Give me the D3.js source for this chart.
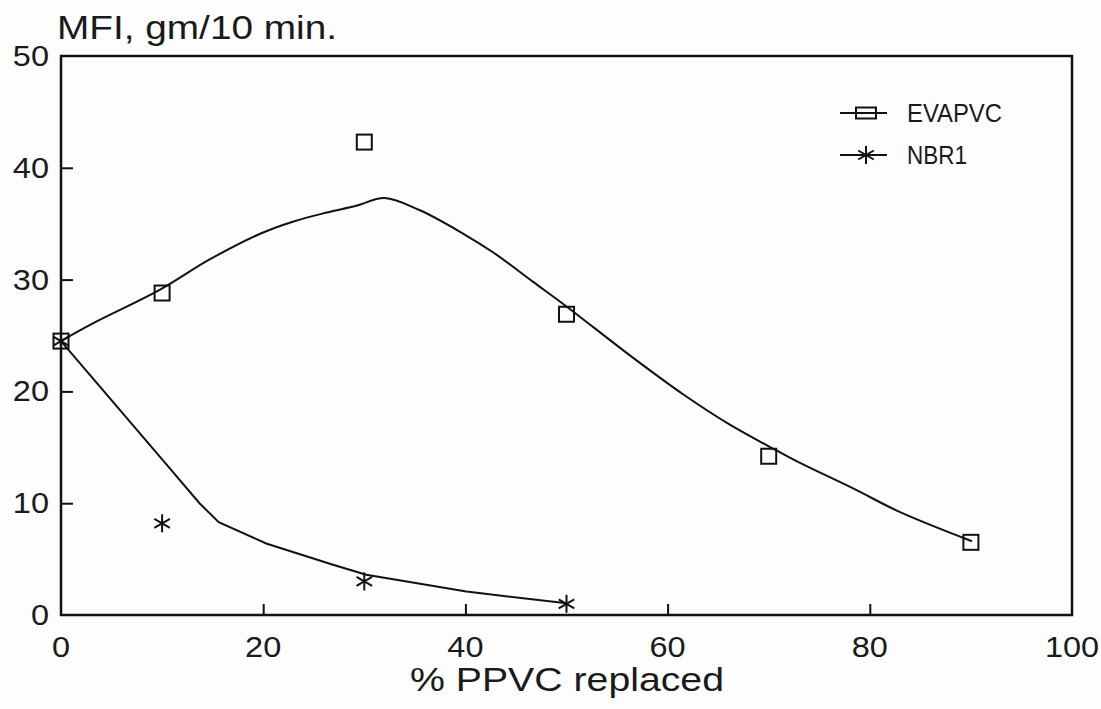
<!DOCTYPE html>
<html lang="en">
<head>
    <meta charset="UTF-8">
    <title>MFI vs % PPVC replaced</title>
    <script src="https://d3js.org/d3.v7.min.js"></script>
    <style>
        body { margin: 0; background: #fdfdfd; }
        svg text { font-family: "Liberation Sans", Arial, sans-serif; fill: #1a1a1a; }
    </style>
</head>
<body>
    <svg id="chart" width="1101" height="709"></svg>
    <script>
        // measured points
        const evaPct = [0, 10, 30, 50, 70, 90];
        const evaMfi = [24.5, 28.8, 42.3, 26.9, 14.2, 6.5];
        const nbrPct = [0, 10, 30, 50];
        const nbrMfi = [24.5, 8.2, 3.0, 1.0];

        // fitted curves
        const evaFitX = [0, 3.2, 9.8, 14.7, 19.7, 23.0, 26.3, 29.2, 32.0, 35.5, 39.8, 42.8, 46.7, 50.0, 56.3, 61.6, 66.2, 70.8, 73.1, 78.4, 83.0, 90.1];
        const evaFitY = [24.5, 26.1, 29.1, 31.8, 34.1, 35.2, 36.0, 36.6, 37.3, 36.2, 34.1, 32.4, 29.8, 27.6, 23.2, 19.7, 17.0, 14.7, 13.6, 11.3, 9.2, 6.6];
        const nbrFitX = [0, 10.3, 13.7, 15.6, 20.3, 26.9, 30.2, 40.1, 50.0];
        const nbrFitY = [24.5, 13.6, 10.0, 8.3, 6.4, 4.5, 3.6, 2.1, 1.05];

        const xTicks = [0, 20, 40, 60, 80, 100];
        const yTicks = [0, 10, 20, 30, 40, 50];
        const legendNames = ["EVAPVC", "NBR1"];

        const svg = d3.select("#chart");
        const margin = {top: 56, right: 29, bottom: 94, left: 61};
        const width = 1101 - margin.left - margin.right;
        const height = 709 - margin.top - margin.bottom;

        const x = d3.scaleLinear().domain([0, 100]).range([margin.left, margin.left + width]);
        const y = d3.scaleLinear().domain([0, 50]).range([margin.top + height, margin.top]);

        // stretch helvetica-like text a little wider, as in the original
        function widen(sel, k) {
            sel.each(function() {
                const w = this.getComputedTextLength();
                d3.select(this).attr("textLength", w * k).attr("lengthAdjust", "spacingAndGlyphs");
            });
        }

        // frame
        svg.append("rect")
            .attr("x", x(0)).attr("y", y(50))
            .attr("width", x(100) - x(0)).attr("height", y(0) - y(50))
            .attr("fill", "none").attr("stroke", "#111").attr("stroke-width", 2.5);

        // inner ticks
        const xAxis = d3.axisTop(x).tickValues(xTicks.slice(1, -1)).tickSize(11).tickFormat("");
        svg.append("g").attr("transform", `translate(0,${y(0)})`).call(xAxis)
            .call(g => g.select(".domain").remove())
            .selectAll("line").attr("stroke", "#111").attr("stroke-width", 2);
        const yAxis = d3.axisRight(y).tickValues(yTicks.slice(1, -1)).tickSize(12).tickFormat("");
        svg.append("g").attr("transform", `translate(${x(0)},0)`).call(yAxis)
            .call(g => g.select(".domain").remove())
            .selectAll("line").attr("stroke", "#111").attr("stroke-width", 2);

        // tick labels
        const xl = svg.append("g").selectAll("text").data(xTicks).join("text")
            .attr("x", d => x(d)).attr("y", 657)
            .attr("text-anchor", "middle").attr("font-size", 29)
            .text(d => d);
        widen(xl, 1.12);
        const yl = svg.append("g").selectAll("text").data(yTicks).join("text")
            .attr("x", 49).attr("y", d => y(d) + 10)
            .attr("text-anchor", "end").attr("font-size", 29)
            .text(d => d);
        widen(yl, 1.12);

        // titles
        svg.append("text").attr("x", 57).attr("y", 39).attr("font-size", 33)
            .attr("textLength", 280).attr("lengthAdjust", "spacingAndGlyphs")
            .text("MFI, gm/10 min.");
        svg.append("text").attr("x", 410).attr("y", 691).attr("font-size", 33)
            .attr("textLength", 314).attr("lengthAdjust", "spacingAndGlyphs")
            .text("% PPVC replaced");

        // curves
        const line = d3.line().x(d => x(d[0])).y(d => y(d[1])).curve(d3.curveCatmullRom.alpha(0.5));
        svg.append("path").datum(d3.zip(evaFitX, evaFitY))
            .attr("d", line).attr("fill", "none").attr("stroke", "#111").attr("stroke-width", 2);
        svg.append("path").datum(d3.zip(nbrFitX, nbrFitY))
            .attr("d", d3.line().x(d => x(d[0])).y(d => y(d[1])))
            .attr("fill", "none").attr("stroke", "#111").attr("stroke-width", 2);

        // markers
        const box = 15;
        function square(g, cx, cy, w, h) {
            g.append("rect").attr("x", cx - w / 2).attr("y", cy - h / 2)
                .attr("width", w).attr("height", h)
                .attr("fill", "none").attr("stroke", "#111").attr("stroke-width", 2);
        }
        function star(g, cx, cy, r) {
            [90, 30, -30].forEach(a => {
                const dx = r * Math.cos(a * Math.PI / 180), dy = r * Math.sin(a * Math.PI / 180);
                g.append("line").attr("x1", cx - dx).attr("y1", cy - dy)
                    .attr("x2", cx + dx).attr("y2", cy + dy)
                    .attr("stroke", "#111").attr("stroke-width", 2);
            });
        }
        const marks = svg.append("g");
        evaPct.forEach((p, i) => square(marks, x(p), y(evaMfi[i]), box, box));
        nbrPct.forEach((p, i) => star(marks, x(p), y(nbrMfi[i]), 9));

        // legend
        const leg = svg.append("g");
        const legRows = [113, 155];
        legRows.forEach((ly, i) => {
            leg.append("line").attr("x1", 840).attr("x2", 887).attr("y1", ly).attr("y2", ly)
                .attr("stroke", "#111").attr("stroke-width", 2);
            if (i === 0) square(leg, 866, ly, 20, 11);
            else star(leg, 866, ly, 9);
            leg.append("text").attr("x", 907).attr("y", ly + 9).attr("font-size", 25)
                .attr("textLength", i === 0 ? 95 : 60).attr("lengthAdjust", "spacingAndGlyphs")
                .text(legendNames[i]);
        });
    </script>
</body>
</html>
